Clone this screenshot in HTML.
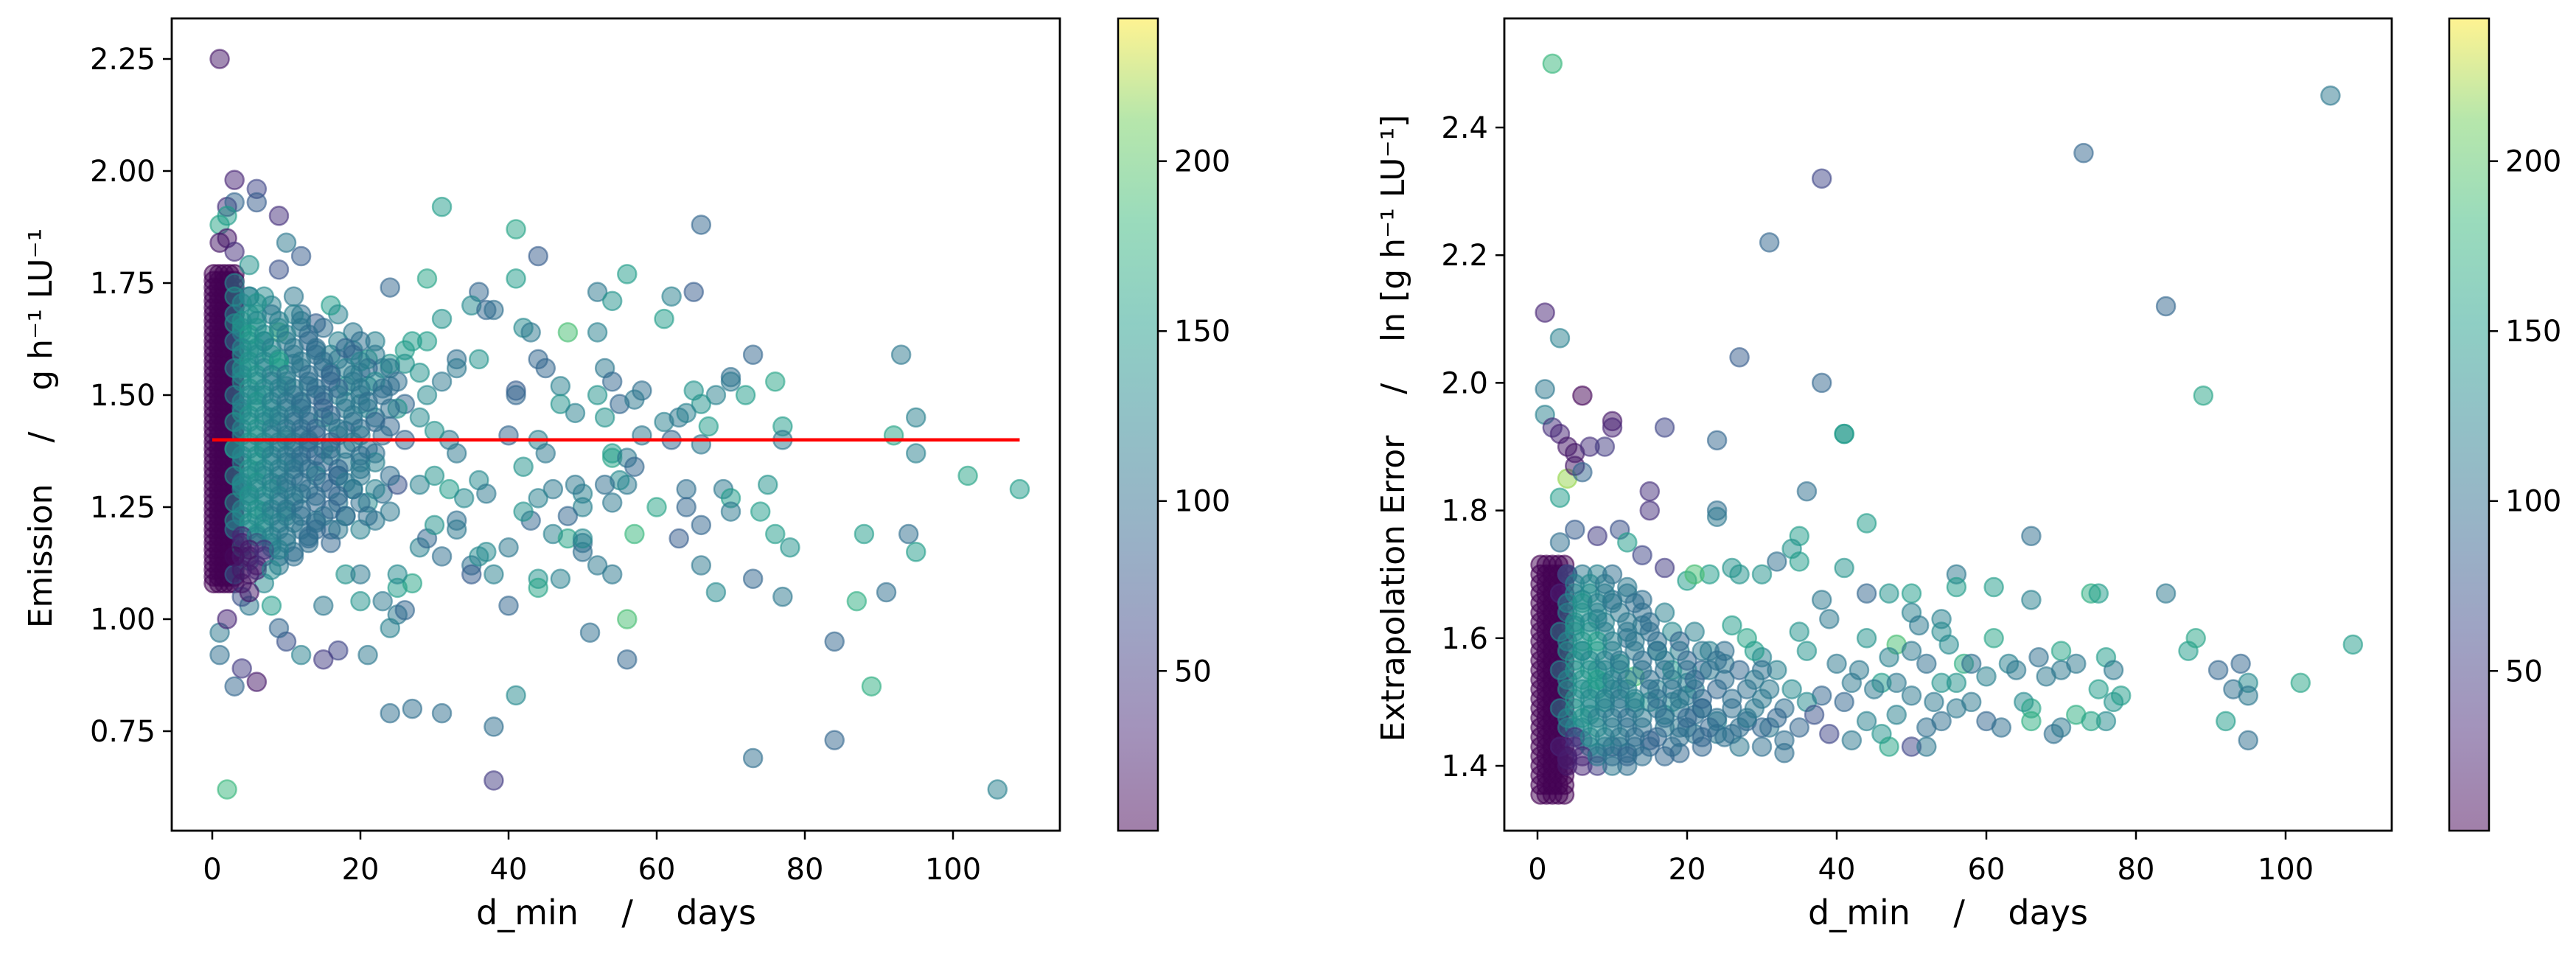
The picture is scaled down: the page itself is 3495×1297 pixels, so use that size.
<!DOCTYPE html>
<html><head><meta charset="utf-8"><style>
html,body{margin:0;padding:0;background:#fff;}
svg{display:block;font-family:"DejaVu Sans","Liberation Sans",sans-serif;}
</style></head><body>
<svg id="fig" width="3495" height="1297" viewBox="0 0 3495 1297" xmlns="http://www.w3.org/2000/svg">
<defs>
<linearGradient id="vir" x1="0" y1="1" x2="0" y2="0">
<stop offset="0" stop-color="#440154"/><stop offset="0.125" stop-color="#482878"/><stop offset="0.25" stop-color="#3e4989"/><stop offset="0.375" stop-color="#31688e"/><stop offset="0.5" stop-color="#26828e"/><stop offset="0.625" stop-color="#1f9e89"/><stop offset="0.75" stop-color="#35b779"/><stop offset="0.875" stop-color="#6ece58"/><stop offset="1" stop-color="#fde725"/>
</linearGradient>
</defs>
<g id="p1"></g>
<g id="p2"></g>
<text x="0" y="0" transform="translate(70,581) rotate(-90)" text-anchor="middle" font-size="44" style="white-space:pre">Emission    /    g h⁻¹ LU⁻¹</text>
<text x="836" y="1254" text-anchor="middle" font-size="46" style="white-space:pre">d_min    /    days</text>
<text x="0" y="0" transform="translate(1905,581) rotate(-90)" text-anchor="middle" font-size="44" style="white-space:pre">Extrapolation Error    /    ln [g h⁻¹ LU⁻¹]</text>
<text x="2643" y="1254" text-anchor="middle" font-size="46" style="white-space:pre">d_min    /    days</text>
</svg>
<script>
// ---- data: left panel (Emission) ----
const leftX = [1,3,6,6,9,2,3,1,2,2,3,1,10,12,9,5,31,41,66,44,41,56,24,29,36,52,54,62,65,61,48,52,42,43,35,37,31,38,73,93,44,33,36,45,53,54,47,41,41,58,65,70,70,76,72,68,66,52,55,57,47,49,53,61,63,64,67,77,77,92,95,95,102,109,40,44,45,42,54,54,58,56,57,62,66,69,70,70,75,74,60,64,64,66,63,57,56,55,54,53,50,50,48,49,46,44,43,46,48,50,50,52,54,50,47,44,44,40,38,35,35,36,37,42,66,68,73,77,76,78,88,87,91,94,95,84,89,84,73,106,56,51,56,40,41,38,38,31,27,24,2,25,26,24,21,23,20,17,15,12,10,6,3,4,1,1,2,5,8,9,15,18,20,25,27,25,28,29,30,33,31,33,28,30,32,34,36,37,33,32,30,28,26,24,29,31,33,28,26,22,19,19,21,17,16,14,12,11,14,16,18,20,22,24,26,22,20,17,19,21,23,25,24,22,20,18,16,14,13,11,9,8,10,12,14,13,15,12,10,9,7,6,5,8,9,11,13,8,7,6,5,7,6,5,7,4,10,11,9,16,18,15,17,20,23,21,4,4,4,3,5,6,3,4,3,4,3,3,27,29,26,24,25,4,5,6,4,5];
const leftY = [2.25,1.98,1.96,1.93,1.90,1.92,1.93,1.88,1.90,1.85,1.82,1.84,1.84,1.81,1.78,1.79,1.92,1.87,1.88,1.81,1.76,1.77,1.74,1.76,1.73,1.73,1.71,1.72,1.73,1.67,1.64,1.64,1.65,1.64,1.70,1.69,1.67,1.69,1.59,1.59,1.58,1.58,1.58,1.56,1.56,1.53,1.52,1.51,1.50,1.51,1.51,1.54,1.53,1.53,1.50,1.50,1.48,1.50,1.48,1.49,1.48,1.46,1.45,1.44,1.45,1.46,1.43,1.43,1.40,1.41,1.45,1.37,1.32,1.29,1.41,1.40,1.37,1.34,1.36,1.37,1.41,1.36,1.34,1.40,1.39,1.29,1.27,1.24,1.30,1.24,1.25,1.29,1.25,1.21,1.18,1.19,1.30,1.31,1.26,1.30,1.28,1.25,1.23,1.30,1.29,1.27,1.22,1.19,1.18,1.17,1.15,1.12,1.10,1.18,1.09,1.09,1.07,1.16,1.10,1.12,1.10,1.14,1.15,1.24,1.12,1.06,1.09,1.05,1.19,1.16,1.19,1.04,1.06,1.19,1.15,0.95,0.85,0.73,0.69,0.62,1.00,0.97,0.91,1.03,0.83,0.76,0.64,0.79,0.80,0.79,0.62,1.01,1.02,0.98,0.92,1.04,1.04,0.93,0.91,0.92,0.95,0.86,0.85,0.89,0.92,0.97,1.00,1.03,1.03,0.98,1.03,1.10,1.10,1.07,1.08,1.10,1.16,1.18,1.21,1.22,1.14,1.20,1.30,1.32,1.29,1.27,1.31,1.28,1.37,1.40,1.42,1.45,1.48,1.52,1.50,1.53,1.56,1.55,1.60,1.62,1.64,1.60,1.58,1.68,1.70,1.66,1.68,1.72,1.60,1.55,1.52,1.48,1.45,1.43,1.40,1.37,1.35,1.32,1.29,1.26,1.28,1.30,1.24,1.22,1.20,1.23,1.20,1.22,1.18,1.15,1.12,1.16,1.24,1.28,1.33,1.40,1.45,1.48,1.52,1.58,1.62,1.68,1.72,1.70,1.64,1.57,1.52,1.45,1.38,1.33,1.28,1.24,1.19,1.13,1.08,1.05,1.40,1.35,1.30,1.38,1.42,1.50,1.58,1.55,1.56,1.52,1.46,1.56,1.64,1.75,1.60,1.50,1.38,1.30,1.22,1.16,1.10,1.66,1.62,1.62,1.57,1.57,1.47,1.08,1.10,1.12,1.14,1.06];
const leftC = [20,30,60,80,40,40,90,160,150,20,40,20,110,80,70,140,150,160,90,80,150,150,90,160,90,110,140,120,80,150,190,120,130,110,130,90,140,100,90,110,90,100,140,90,110,90,120,80,90,100,140,100,110,160,150,120,140,140,90,110,140,120,140,120,110,120,150,150,110,160,120,120,160,150,90,120,110,140,160,150,110,110,90,90,110,110,150,110,140,150,160,100,90,90,80,180,110,130,110,100,120,120,90,110,110,120,90,120,160,100,100,110,110,130,120,140,160,110,120,100,80,130,130,140,110,130,90,110,150,140,150,170,100,100,150,90,170,90,100,120,190,100,90,90,130,100,50,100,100,100,180,110,90,120,110,110,140,60,50,120,70,20,90,50,100,110,30,110,150,90,110,140,110,150,160,130,120,90,140,100,100,110,120,140,150,130,130,110,110,110,140,130,90,100,130,110,110,140,150,120,110,120,150,120,150,80,100,110,110,110,140,120,110,90,90,100,120,110,110,130,100,70,110,110,120,130,90,110,90,100,110,130,140,120,110,110,140,130,140,150,130,140,130,120,190,110,120,140,140,150,120,150,150,140,130,70,140,100,110,80,90,110,100,120,110,120,140,150,120,130,140,130,140,130,140,150,90,140,150,150,140,140,140,20,15,10,30,20];
// dense cloud rows (left), one row per y level
const leftCloudY = [1.72,1.68,1.65,1.62,1.59,1.56,1.53,1.50,1.47,1.44,1.41,1.38,1.35,1.32,1.29,1.26,1.23,1.20,1.17,1.14,1.11,
1.705,1.665,1.635,1.605,1.575,1.545,1.515,1.485,1.455,1.425,1.395,1.365,1.335,1.305,1.275,1.245,1.215,1.185,1.155];
const leftCloudX = [
[3,5,7],[3,5,8,11],[4,6,9,12,15],[3,5,7,10,13,17,20],[4,6,8,11,14,16,19,22],
[3,5,7,9,12,15,18,21,24],[4,6,8,10,13,16,19,22,25],[3,5,7,9,11,14,17,20,23],
[4,6,8,10,12,15,18,21,24],[3,5,7,9,11,13,16,19,22],[4,6,8,10,12,14,17,20,23],
[3,5,7,9,11,13,15,18,21],[4,6,8,10,12,15,18,22],[3,5,7,9,11,14,17,20,24],
[4,6,8,10,13,16,19,22],[3,5,7,9,11,14,17,20],[4,6,8,10,12,15,18,21],
[3,5,7,9,12,14,17],[4,6,8,10,13,16],[3,5,7,9,11],[4,6,8],
[4,6],[4,6,9,12],[5,7,10,13],[4,6,8,11,14,18],[5,7,9,12,15,20],[4,6,8,10,13,16,19],[5,7,9,11,14,17,20,23],
[4,6,8,10,12,15,18,21],[5,7,9,11,13,16,19],[4,6,8,10,12,14,17,20],[5,7,9,11,13,16,19],[4,6,8,10,12,14,16,20],
[5,7,9,11,13,17,20],[4,6,8,10,12,15,18],[5,7,9,11,14,17],[4,6,8,10,12,16],[5,7,9,11,14],[4,6,8,10,13],[5,7,9]];
const leftCloudC = [
[140,120,130],[130,140,110,120],[140,150,130,110,100],[120,140,130,110,90,120,100],[140,130,150,110,100,120,90,110],
[130,140,120,150,110,100,120,90,110],[140,130,110,120,100,90,110,130,100],[130,120,140,110,100,90,120,110,100],
[120,140,130,110,100,80,110,120,100],[140,130,120,110,90,100,110,100,90],[130,140,110,120,100,90,110,120,100],
[140,120,130,110,100,90,120,110,100],[130,140,120,110,100,90,110,120],[140,130,120,110,100,120,90,110,100],
[130,120,140,110,100,90,110,120],[140,130,120,100,110,90,110,100],[130,140,110,120,100,110,90,100],
[120,130,140,110,100,90,110],[20,30,130,110,100,90],[10,20,40,110,100],[20,30,130],
[130,140],[140,130,120,110],[150,130,120,100],[130,140,120,110,100,90],[140,130,150,110,100,120],[130,140,120,110,100,90,110],[140,130,120,110,100,90,110,100],
[130,140,120,110,100,90,110,100],[140,130,120,110,100,90,110],[130,140,120,110,100,90,110,100],[140,130,120,110,100,90,110],[130,140,120,110,100,90,110,100],
[140,130,120,110,100,90,110],[130,140,120,110,100,90,110],[140,130,120,110,100,90],[130,140,120,110,100,90],[140,130,120,110,100],[30,130,120,110,100],[20,40,120]];
// dense low-d_min column (left)
const leftCoreX = [0.2,0.9,1.6,2.3,3.0];
const leftCoreY = [1.08,1.095,1.11,1.125,1.14,1.155,1.17,1.185,1.20,1.215,1.23,1.245,1.26,1.275,1.29,1.305,1.32,1.335,1.35,1.365,1.38,1.395,1.41,1.425,1.44,1.455,1.47,1.485,1.50,1.515,1.53,1.545,1.56,1.575,1.59,1.605,1.62,1.635,1.65,1.665,1.68,1.695,1.71,1.725,1.74,1.755,1.77];
// ---- data: right panel (Extrapolation Error) ----
const rightX = [2,106,73,38,31,84,1,3,27,1,38,89,6,1,10,10,17,41,41,24,2,3,4,5,7,9,4,5,6,3,15,15,36,24,24,44,66,11,8,12,35,34,14,17,26,27,32,35,30,23,20,21,41,38,44,47,50,56,56,61,66,74,75,84,50,51,54,54,48,44,39,35,36,40,43,46,47,50,52,55,57,58,61,63,64,67,70,72,76,77,70,68,60,56,54,53,50,48,45,42,41,38,36,34,32,30,28,26,29,25,23,22,20,18,16,14,12,11,13,15,17,19,21,24,26,28,31,33,35,37,39,42,44,46,48,50,52,54,56,58,60,62,65,66,69,70,72,75,77,78,76,74,66,52,47,33,30,27,24,21,19,15,12,10,8,6,4,5,7,9,8,6,5,6,8,10,12,14,4,3,5,87,88,91,93,94,95,95,92,95,102,109,16,18,20,22,9,11,13,7];
const rightY = [2.50,2.45,2.36,2.32,2.22,2.12,2.11,2.07,2.04,1.99,2.00,1.98,1.98,1.95,1.94,1.93,1.93,1.92,1.92,1.91,1.93,1.92,1.90,1.89,1.90,1.90,1.85,1.87,1.86,1.82,1.83,1.80,1.83,1.80,1.79,1.78,1.76,1.77,1.76,1.75,1.76,1.74,1.73,1.71,1.71,1.70,1.72,1.72,1.70,1.70,1.69,1.70,1.71,1.66,1.67,1.67,1.67,1.70,1.68,1.68,1.66,1.67,1.67,1.67,1.64,1.62,1.63,1.61,1.59,1.60,1.63,1.61,1.58,1.56,1.55,1.53,1.57,1.58,1.56,1.59,1.56,1.56,1.60,1.56,1.55,1.57,1.58,1.56,1.57,1.55,1.55,1.54,1.54,1.53,1.53,1.50,1.51,1.53,1.52,1.53,1.50,1.51,1.50,1.52,1.55,1.57,1.60,1.62,1.58,1.56,1.58,1.55,1.53,1.55,1.58,1.62,1.60,1.56,1.54,1.50,1.48,1.46,1.48,1.47,1.45,1.47,1.46,1.44,1.46,1.48,1.45,1.44,1.47,1.45,1.48,1.43,1.46,1.47,1.49,1.50,1.47,1.46,1.50,1.49,1.45,1.46,1.48,1.52,1.50,1.51,1.47,1.47,1.47,1.43,1.43,1.42,1.43,1.43,1.45,1.45,1.42,1.44,1.42,1.43,1.42,1.44,1.41,1.46,1.48,1.50,1.55,1.58,1.62,1.66,1.63,1.66,1.68,1.66,1.70,1.75,1.77,1.58,1.60,1.55,1.52,1.56,1.53,1.51,1.47,1.44,1.53,1.59,1.52,1.50,1.51,1.49,1.53,1.52,1.50,1.52];
const rightC = [180,110,90,60,90,90,30,120,80,110,90,160,5,120,20,30,60,140,150,90,40,30,20,20,40,50,220,20,90,150,40,40,100,100,110,150,100,70,50,150,150,140,60,50,140,140,100,150,140,150,150,190,140,110,90,140,150,110,150,150,120,170,150,110,120,110,120,130,190,140,110,140,140,110,110,150,120,110,100,130,170,100,160,120,110,100,160,110,150,110,110,110,120,140,140,110,110,110,110,110,90,90,130,130,120,120,160,150,150,110,120,90,120,150,140,110,100,150,190,140,130,110,100,120,100,90,110,100,90,70,60,110,120,140,120,60,100,100,110,110,90,100,130,160,100,110,170,150,140,150,130,160,170,110,160,100,100,110,110,110,90,80,100,70,90,60,30,120,140,150,140,140,130,120,110,100,110,100,110,100,80,150,160,90,100,90,130,110,150,100,160,150,120,130,110,120,140,120,140,150];
const rightCloudY = [1.70,1.67,1.64,1.61,1.58,1.55,1.52,1.49,1.46,1.43,1.40,
1.685,1.655,1.625,1.595,1.565,1.535,1.505,1.475,1.445,1.415];
const rightCloudX = [
[4,6,8,10],[3,5,7,9,12],[4,6,8,11,14,17],[3,5,7,9,12,15,18,21],
[4,6,8,10,13,16,19,22,25],[3,5,7,9,11,14,17,20,23,27,30],[4,6,8,10,12,15,18,21,24,28,31],
[3,5,7,9,11,13,16,19,22,26,29,33],[4,6,8,10,12,14,17,20,23,27,30],[3,5,7,9,11,13,15,18,22],[4,6,8,10,12],
[5,7,9],[4,6,8,10,13],[5,7,9,12,15],[4,6,8,10,13,16,19],[5,7,9,11,14,17,20,24],[4,6,8,10,12,15,18,21,25,29],
[5,7,9,11,13,16,19,22,26,30],[4,6,8,10,12,14,17,20,24,28,32],[5,7,9,11,13,16,19,22,25],[4,6,8,10,12,14,17]];
const rightCloudC = [
[40,110,120,100],[30,130,140,120,110],[120,140,130,110,100,120],[130,140,150,120,110,100,130,120],
[140,130,150,120,110,100,120,110,100],[130,140,150,130,120,110,100,120,110,90,100],[140,130,140,120,130,110,100,120,90,100,110],
[130,140,130,120,110,120,100,110,90,100,110,100],[120,130,140,120,110,100,110,100,90,100,90],[30,40,130,120,110,100,90,100,90],[20,30,50,110,100],
[120,130,110],[130,140,120,110,100],[140,130,120,110,100],[130,140,150,120,110,100,90],[140,130,120,110,100,110,90,100],[130,140,150,120,110,100,110,90,100,110],
[140,130,120,110,120,100,110,90,100,110],[130,140,120,110,100,110,100,90,100,110,90],[40,130,120,110,100,90,100,90,100],[20,30,110,100,90,100,90]];
const rightCoreX = [0.4,1.2,2.0,2.8,3.6];
const rightCoreY = [1.355,1.37,1.385,1.40,1.415,1.43,1.445,1.46,1.475,1.49,1.505,1.52,1.535,1.55,1.565,1.58,1.595,1.61,1.625,1.64,1.655,1.67,1.685,1.70,1.715];
// axis ticks
const leftYTicks = [0.75,1.00,1.25,1.50,1.75,2.00,2.25];
const leftYTickLabels = ["0.75","1.00","1.25","1.50","1.75","2.00","2.25"];
const rightYTicks = [1.4,1.6,1.8,2.0,2.2,2.4];
const rightYTickLabels = ["1.4","1.6","1.8","2.0","2.2","2.4"];
const xTicks = [0,20,40,60,80,100];
const xTickLabels = ["0","20","40","60","80","100"];
const cbTicks = [50,100,150,200];
const cbTickLabels = ["50","100","150","200"];
const fitLine = [1.40,1.40];
const fitLineX = [0,109];

const NS="http://www.w3.org/2000/svg";
const stops=[[0,[68,1,84]],[0.125,[72,40,120]],[0.25,[62,73,137]],[0.375,[49,104,142]],[0.5,[38,130,142]],[0.625,[31,158,137]],[0.75,[53,183,121]],[0.875,[110,206,88]],[1,[253,231,37]]];
function vir(t){t=Math.max(0,Math.min(1,t));for(let i=1;i<stops.length;i++){if(t<=stops[i][0]){const a=stops[i-1],b=stops[i];const f=(t-a[0])/(b[0]-a[0]);const c=a[1].map((v,k)=>Math.round(v+(b[1][k]-v)*f));return `rgb(${c[0]},${c[1]},${c[2]})`;}}return "rgb(253,231,37)";}
function mk(tag,attrs,parent){const e=document.createElementNS(NS,tag);for(const k in attrs)e.setAttribute(k,attrs[k]);parent.appendChild(e);return e;}

function panel(g,cfg){
  const sx=v=>cfg.x0+v*cfg.kx;
  const sy=v=>cfg.yref+(cfg.vref-v)*cfg.ky;
  const cy=v=>cfg.T+(cfg.cmax-v)/(cfg.cmax-cfg.cmin)*(cfg.B-cfg.T);
  const pts=mk('g',{},g);
  
  
  function dot(x,y,c){
    const col=vir((c-cfg.cmin)/(cfg.cmax-cfg.cmin));
    const e=mk('circle',{cx:sx(x),cy:sy(y),r:12.5,fill:col,'fill-opacity':0.5,stroke:col,'stroke-opacity':0.6,'stroke-width':2.5},pts);
    
    
  }
  for(let a=0;a<cfg.coreY.length;a++){
    for(let b=0;b<cfg.coreX.length;b++) dot(cfg.coreX[b],cfg.coreY[a],3);
  }
  for(let i=0;i<cfg.X.length;i++) dot(cfg.X[i],cfg.Y[i],cfg.C[i]);
  for(let r=0;r<cfg.cloudY.length;r++){
    for(let j=0;j<cfg.cloudX[r].length;j++) dot(cfg.cloudX[r][j],cfg.cloudY[r],cfg.cloudC[r][j]);
  }
  if(cfg.fit){
    const l=mk('line',{x1:sx(fitLineX[0]),y1:sy(fitLine[0]),x2:sx(fitLineX[1]),y2:sy(fitLine[1]),stroke:'#ff0000','stroke-width':4.5},g);
    
    
  }
  const fr=mk('rect',{x:cfg.L,y:cfg.T,width:cfg.R-cfg.L,height:cfg.B-cfg.T,fill:'none',stroke:'#000','stroke-width':2.8},g);
  
  
  xTicks.forEach((v,i)=>{
    const x=sx(v);
    mk('line',{x1:x,y1:cfg.B,x2:x,y2:cfg.B+12,stroke:'#000','stroke-width':2.5},g);
    const t=mk('text',{x:x,y:cfg.B+66,'text-anchor':'middle','font-size':40},g);
    t.textContent=xTickLabels[i];
    
    
  });
  cfg.yTicks.forEach((v,i)=>{
    const y=sy(v);
    mk('line',{x1:cfg.L-12,y1:y,x2:cfg.L,y2:y,stroke:'#000','stroke-width':2.5},g);
    const t=mk('text',{x:cfg.L-22,y:y+14,'text-anchor':'end','font-size':40},g);
    t.textContent=cfg.yLabels[i];
    
    
  });
  const cb=mk('rect',{x:cfg.cbL,y:cfg.T,width:cfg.cbW,height:cfg.B-cfg.T,fill:'url(#vir)','fill-opacity':0.5,stroke:'#000','stroke-width':2.5},g);
  
  
  cbTicks.forEach((v,i)=>{
    const y=cy(v);
    mk('line',{x1:cfg.cbL+cfg.cbW,y1:y,x2:cfg.cbL+cfg.cbW+12,y2:y,stroke:'#000','stroke-width':2.5},g);
    const t=mk('text',{x:cfg.cbL+cfg.cbW+22,y:y+14,'font-size':40},g);
    t.textContent=cbTickLabels[i];
    
    
  });
}
panel(document.getElementById('p1'),{L:233,R:1438,T:25,B:1127,x0:288,kx:10.05,yref:80,vref:2.25,ky:608,
  X:leftX,Y:leftY,C:leftC,cloudX:leftCloudX,cloudY:leftCloudY,cloudC:leftCloudC,coreX:leftCoreX,coreY:leftCoreY,
  yTicks:leftYTicks,yLabels:leftYTickLabels,cbL:1517,cbW:54,cmin:3,cmax:242,fit:true});
panel(document.getElementById('p2'),{L:2041,R:3245,T:25,B:1127,x0:2086,kx:10.15,yref:173,vref:2.4,ky:866,
  X:rightX,Y:rightY,C:rightC,cloudX:rightCloudX,cloudY:rightCloudY,cloudC:rightCloudC,coreX:rightCoreX,coreY:rightCoreY,
  yTicks:rightYTicks,yLabels:rightYTickLabels,cbL:3323,cbW:54,cmin:3,cmax:242,fit:false});
</script>
</body></html>
